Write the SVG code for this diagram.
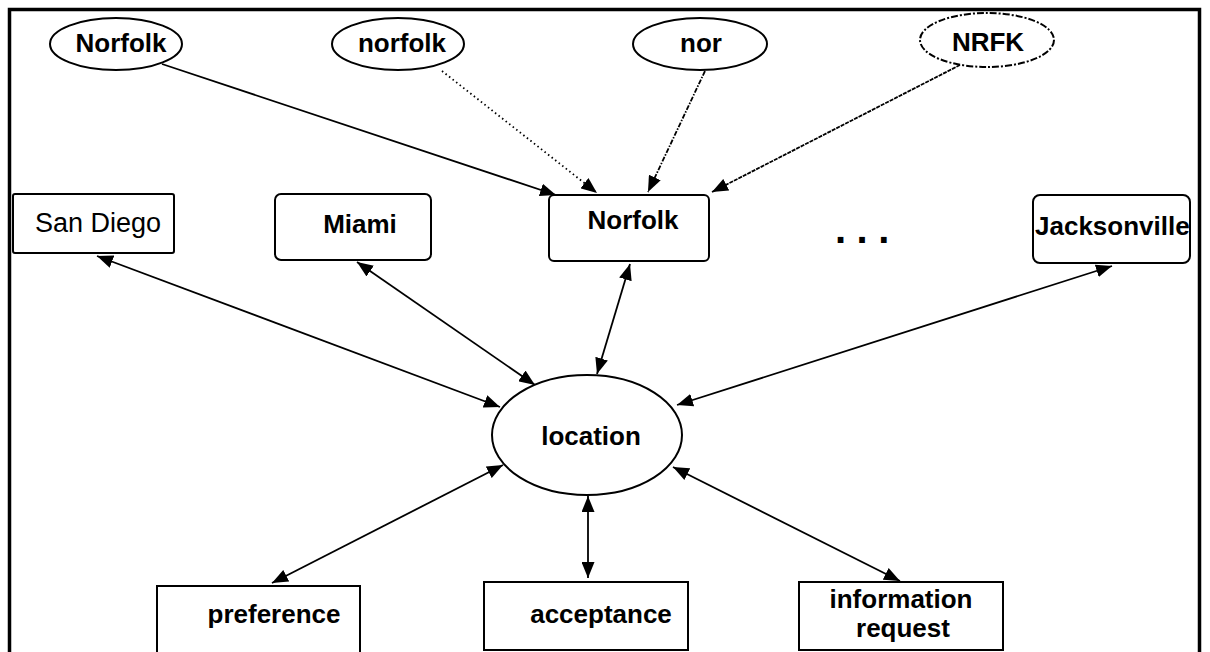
<svg xmlns="http://www.w3.org/2000/svg" width="1210" height="652" viewBox="0 0 1210 652">
<defs>
<style>
.bg{fill:#fff}
.frame{fill:none;stroke:#000;stroke-width:3.5}
.shape{fill:#fff;stroke:#000;stroke-width:2}
.t{font-family:"Liberation Sans",Arial,sans-serif;font-size:26px;font-weight:bold;fill:#000;text-anchor:middle}
.reg{font-weight:normal;font-size:27px}
.e{fill:none;stroke:#000;stroke-width:1.8}
.both{marker-start:url(#ah);marker-end:url(#ah)}
.one{marker-end:url(#ah)}
</style>
<marker id="ah" markerUnits="userSpaceOnUse" markerWidth="17" markerHeight="13" refX="16" refY="6.5" orient="auto-start-reverse" viewBox="0 0 17 13">
<path d="M0,0 L16,6.5 L0,13 z" fill="#000"/>
</marker>
</defs>
<rect class="bg" x="0" y="0" width="1210" height="652"/>
<rect class="frame" x="9.5" y="9.5" width="1190" height="700"/>

<g id="connectors">
<line class="e one" x1="162" y1="64" x2="556" y2="195"/>
<line class="e one" x1="442" y1="71" x2="597" y2="193" stroke-dasharray="1.5,3"/>
<line class="e one" x1="705" y1="71" x2="648" y2="192" stroke-dasharray="5,1.5,1.5,1.5"/>
<line class="e one" x1="960" y1="65" x2="712" y2="192" stroke-dasharray="4,1"/>
<line class="e both" x1="97" y1="256" x2="500" y2="407"/>
<line class="e both" x1="357" y1="262" x2="535" y2="385"/>
<line class="e both" x1="630" y1="264" x2="597" y2="374"/>
<line class="e both" x1="1112" y1="266" x2="677" y2="405"/>
<line class="e both" x1="272" y1="583" x2="503" y2="465"/>
<line class="e both" x1="588" y1="578" x2="588" y2="496"/>
<line class="e both" x1="900" y1="581" x2="673" y2="467"/>
</g>

<g id="n-Norfolk-alias">
<ellipse class="shape" cx="116" cy="44" rx="66" ry="26"/>
<text class="t" x="121" y="52">Norfolk</text>
</g>
<g id="n-norfolk-alias">
<ellipse class="shape" cx="398" cy="44" rx="66" ry="26"/>
<text class="t" x="402" y="52">norfolk</text>
</g>
<g id="n-nor-alias">
<ellipse class="shape" cx="700" cy="44" rx="67" ry="26"/>
<text class="t" x="701" y="52">nor</text>
</g>
<g id="n-NRFK-alias">
<ellipse class="shape" cx="987" cy="40" rx="67" ry="27" stroke-dasharray="7,2,2,2"/>
<text class="t" x="988" y="51">NRFK</text>
</g>

<g id="n-SanDiego">
<rect class="shape" x="13" y="194" width="161" height="59" rx="2"/>
<text class="t reg" x="98" y="232">San Diego</text>
</g>
<g id="n-Miami">
<rect class="shape" x="275" y="194" width="156" height="66" rx="6"/>
<text class="t" x="360" y="233">Miami</text>
</g>
<g id="n-Norfolk">
<rect class="shape" x="549" y="195" width="160" height="66" rx="5"/>
<text class="t" x="633" y="229">Norfolk</text>
</g>
<g id="n-dots">
<text class="t" x="835" y="243" style="text-anchor:start;font-size:40px;letter-spacing:10.5px">...</text>
</g>
<g id="n-Jacksonville">
<rect class="shape" x="1033" y="195" width="157" height="68" rx="7"/>
<text class="t" x="1035" y="235" style="text-anchor:start">Jacksonville</text>
</g>

<g id="n-location">
<ellipse class="shape" cx="587" cy="435" rx="95" ry="60"/>
<text class="t" x="591" y="445">location</text>
</g>

<g id="n-preference">
<rect class="shape" x="157" y="586" width="203" height="80"/>
<text class="t" x="274" y="623">preference</text>
</g>
<g id="n-acceptance">
<rect class="shape" x="484" y="582" width="204" height="68"/>
<text class="t" x="601" y="623">acceptance</text>
</g>
<g id="n-information-request">
<rect class="shape" x="799" y="582" width="204" height="68"/>
<text class="t" x="901" y="608">information</text>
<text class="t" x="903" y="637">request</text>
</g>
</svg>
